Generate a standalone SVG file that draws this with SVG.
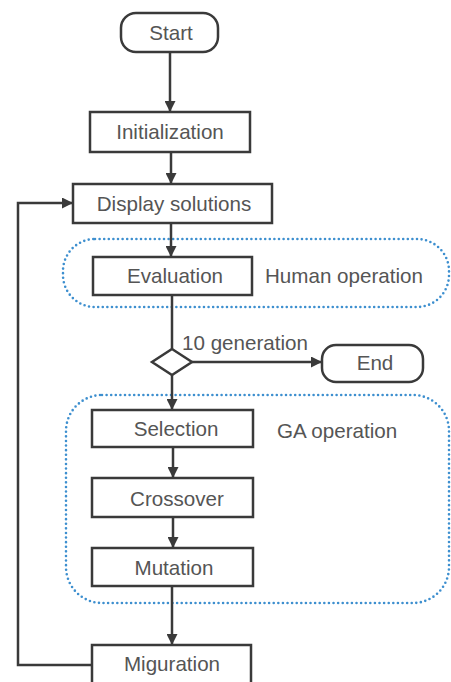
<svg xmlns="http://www.w3.org/2000/svg" width="451" height="682" viewBox="0 0 451 682">
<style>
.box{fill:#fff;stroke:#3a3a3a;stroke-width:2.5}
.grp{fill:none;stroke:#3d8fcf;stroke-width:2.6;stroke-dasharray:0 4.6;stroke-linecap:round}
.ln{fill:none;stroke:#3a3a3a;stroke-width:2.5}
text{font-family:"Liberation Sans",Arial,sans-serif;font-size:20.6px;fill:#555;text-anchor:middle}
.l{text-anchor:start}
</style>
<defs>
<marker id="ah" viewBox="0 0 10 10" refX="10" refY="5" markerWidth="4.4" markerHeight="4.4" markerUnits="strokeWidth" orient="auto">
<path d="M0,0 L10,5 L0,10 z" fill="#3a3a3a"/>
</marker>
</defs>
<g id="groups">
<rect class="grp" x="63" y="239" width="386" height="68" rx="32"/>
<rect class="grp" x="66" y="395" width="383" height="208" rx="36"/>
</g>
<g id="connectors">
<line class="ln" x1="170" y1="52" x2="170" y2="112" marker-end="url(#ah)"/>
<line class="ln" x1="171" y1="152" x2="171" y2="184" marker-end="url(#ah)"/>
<line class="ln" x1="171" y1="223" x2="171" y2="257" marker-end="url(#ah)"/>
<line class="ln" x1="172" y1="295" x2="172" y2="349"/>
<line class="ln" x1="172" y1="375" x2="172" y2="410" marker-end="url(#ah)"/>
<line class="ln" x1="173" y1="447" x2="173" y2="478" marker-end="url(#ah)"/>
<line class="ln" x1="173" y1="517" x2="173" y2="548" marker-end="url(#ah)"/>
<line class="ln" x1="172" y1="586" x2="172" y2="645" marker-end="url(#ah)"/>
<line class="ln" x1="192" y1="362" x2="322" y2="362" marker-end="url(#ah)"/>
<polyline class="ln" points="92,665 18,665 18,203 73,203" marker-end="url(#ah)"/>
<text class="l" x="182" y="350">10 generation</text>
</g>
<g id="start"><rect class="box" x="121" y="13" width="97" height="39" rx="15"/><text x="171" y="40">Start</text></g>
<g id="init"><rect class="box" x="90" y="112" width="160" height="40"/><text x="170" y="139">Initialization</text></g>
<g id="display"><rect class="box" x="73" y="184" width="199" height="39"/><text x="174" y="211">Display solutions</text></g>
<g id="eval"><rect class="box" x="93" y="257" width="159" height="38"/><text x="175" y="283">Evaluation</text></g>
<text class="l" x="265" y="283">Human operation</text>
<g id="decision"><polygon class="box" points="172,349 192,362 172,375 152,362"/></g>
<g id="end"><rect class="box" x="322" y="345" width="101" height="37" rx="14"/><text x="375" y="370">End</text></g>
<g id="selection"><rect class="box" x="92" y="410" width="161" height="37"/><text x="176" y="436">Selection</text></g>
<text class="l" x="277" y="438">GA operation</text>
<g id="crossover"><rect class="box" x="92" y="478" width="161" height="39"/><text x="177" y="506">Crossover</text></g>
<g id="mutation"><rect class="box" x="92" y="548" width="161" height="38"/><text x="174" y="575">Mutation</text></g>
<g id="migration"><rect class="box" x="92" y="645" width="159" height="39"/><text x="172" y="671">Miguration</text></g>
</svg>
